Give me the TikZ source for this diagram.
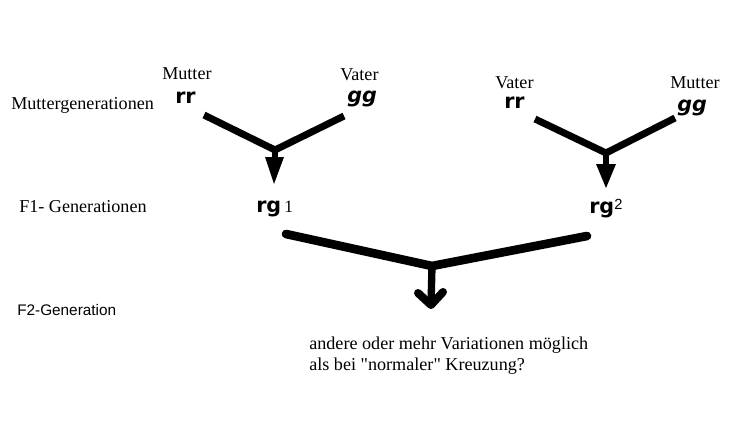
\documentclass[tikz,border=0pt]{standalone}
\usepackage{fontspec}
\setmainfont{Liberation Serif}
\newfontfamily\qfont{Liberation Serif}
\newfontfamily\genfont{DejaVu Sans}
\newfontfamily\arialfont{Liberation Sans}
\newcommand{\straightq}{{\qfont\char34}}
\begin{document}
\begin{tikzpicture}[x=0.75pt,y=-0.75pt,
  lbl/.style={font=\fontsize{13.6}{16}\selectfont, inner sep=0pt, anchor=base west},
  gen/.style={font=\genfont\bfseries\fontsize{15.5}{18}\selectfont, inner sep=0pt, anchor=base west},
  geni/.style={font=\genfont\bfseries\itshape\fontsize{15.5}{18}\selectfont, inner sep=0pt, anchor=base west},
  idx/.style={font=\fontsize{13}{14}\selectfont, inner sep=0pt, anchor=base west},
  idxs/.style={font=\arialfont\fontsize{11}{12}\selectfont, inner sep=0pt, anchor=base west},
  fzwei/.style={font=\arialfont\fontsize{11.5}{12}\selectfont, inner sep=0pt, anchor=base west},
  vline/.style={line width=5.25pt, line join=round},
  bigv/.style={line width=6.5pt, line cap=round, line join=round},
  shaft/.style={line width=4.5pt},
  openhead/.style={line width=6pt, line cap=round, line join=round}]
\useasboundingbox (0,0) rectangle (752,432);
% labels
\node[lbl] (mg) at (11,109) {Muttergenerationen};
\node[lbl] (m1) at (162,79) {Mutter};
\node[gen] (rr1) at (175,103) {rr};
\node[lbl] (v1) at (340,80) {Vater};
\node[geni] (gg1) at (347,102) {gg};
\node[lbl] (v2) at (495,88) {Vater};
\node[gen] (rr2) at (504,108) {rr};
\node[lbl] (m2) at (670,88) {Mutter};
\node[geni] (gg2) at (677,111) {gg};
\node[lbl] (f1) at (19,212) {F1- Generationen};
\node[gen] (rg1) at (256,212) {rg};
\node[idx] (n1) at (284,212) {1};
\node[gen] (rg2) at (589,213) {rg};
\node[idxs] (n2) at (614,209) {2};
\node[fzwei] (f2) at (17,315) {F2-Generation};
\node[lbl] (t1) at (309,349) {andere oder mehr Variationen möglich};
\node[lbl] (t2) at (309,370) {als bei \straightq normaler\straightq{} Kreuzung?};
% left cross
\coordinate (aL) at (204,115);
\coordinate (aV) at (275,150);
\coordinate (aR) at (344,116);
\coordinate (aT) at (274,184);
\draw[vline] (aL) -- (aV) -- (aR);
\draw[shaft] (aV) -- (275,160);
\fill (265,157) -- (284,157) -- (aT) -- cycle;
% right cross
\coordinate (bL) at (535,119);
\coordinate (bV) at (606,153);
\coordinate (bR) at (675,118);
\coordinate (bT) at (606,188);
\draw[vline] (bL) -- (bV) -- (bR);
\draw[shaft] (bV) -- (606,166);
\fill (596,164) -- (616,164) -- (bT) -- cycle;
% F1 cross
\coordinate (cL) at (286,234);
\coordinate (cV) at (432,266);
\coordinate (cR) at (587,236);
\coordinate (cT) at (431,305);
\draw[bigv] (cL) -- (cV) -- (cR);
\draw[shaft, line width=5.5pt] (cV) -- (cT);
\draw[openhead] (418,293) -- (cT) -- (443,292);
\end{tikzpicture}
\end{document}
